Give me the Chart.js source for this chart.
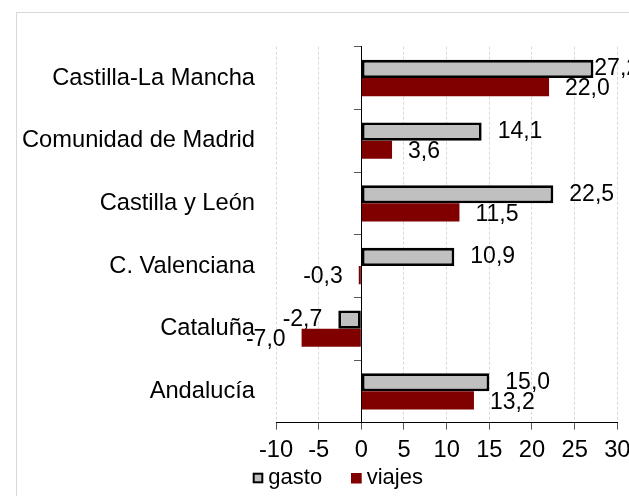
<!DOCTYPE html>
<html><head><meta charset="utf-8">
<script src="https://cdn.jsdelivr.net/npm/chart.js@4/dist/chart.umd.min.js"></script>
<style>html,body{margin:0;padding:0;background:#fff;overflow:hidden}canvas{display:block}</style>
</head><body>
<canvas id="c" width="629" height="496"></canvas>
<script>
const categories = ['Castilla-La Mancha', 'Comunidad de Madrid', 'Castilla y León', 'C. Valenciana', 'Cataluña', 'Andalucía'];
const gasto = [27.2, 14.1, 22.5, 10.9, -2.7, 15.0];
const viajes = [22.0, 3.6, 11.5, -0.3, -7.0, 13.2];
const seriesNames = ['gasto', 'viajes'];
const xTickValues = [-10, -5, 0, 5, 10, 15, 20, 25, 30];

const FONT = '"Liberation Sans", Arial, sans-serif';

const framePlugin = {
  id: 'frame',
  beforeDraw(chart) {
    const ctx = chart.ctx;
    ctx.save();
    ctx.fillStyle = '#fff';
    ctx.fillRect(0, 0, chart.width, chart.height);
    ctx.strokeStyle = '#d9d9d9';
    ctx.lineWidth = 1;
    ctx.strokeRect(16.5, 12.5, 1000, 1000);
    ctx.restore();
  }
};

const labelPlugin = {
  id: 'valueLabels',
  afterDatasetsDraw(chart) {
    const ctx = chart.ctx, area = chart.chartArea;
    ctx.save();
    ctx.font = '23px ' + FONT;
    ctx.fillStyle = '#000';
    ctx.textBaseline = 'middle';
    chart.data.datasets.forEach((ds, di) => {
      const meta = chart.getDatasetMeta(di);
      meta.data.forEach((el, i) => {
        const v = ds.data[i];
        const txt = v.toFixed(1).replace('.', ',');
        const dy = di === 1 ? 2 : 0;
        if (v >= 0) {
          ctx.textAlign = 'left';
          ctx.fillText(txt, Math.min(el.x + 16, area.right - 23), el.y + dy);
        } else {
          ctx.textAlign = 'right';
          ctx.fillText(txt, el.x - 16, el.y + dy);
        }
      });
    });
    ctx.restore();
  }
};

const legendPlugin = {
  id: 'customLegend',
  afterDraw(chart) {
    const ctx = chart.ctx;
    const ds = chart.data.datasets;
    ctx.save();
    ctx.fillStyle = ds[0].backgroundColor;
    ctx.fillRect(253.7, 473.7, 8.6, 8.6);
    ctx.lineWidth = 2;
    ctx.strokeStyle = '#000';
    ctx.strokeRect(253.7, 473.7, 8.6, 8.6);
    ctx.fillStyle = ds[1].backgroundColor;
    ctx.fillRect(351, 473, 10.7, 10.5);
    ctx.fillStyle = '#000';
    ctx.font = '22px ' + FONT;
    ctx.textBaseline = 'alphabetic';
    ctx.textAlign = 'left';
    ctx.fillText(ds[0].label, 268.3, 484);
    ctx.fillText(ds[1].label, 366.7, 484);
    ctx.restore();
  }
};

new Chart(document.getElementById('c'), {
  type: 'bar',
  data: {
    labels: categories,
    datasets: [
      { label: seriesNames[0], data: gasto, backgroundColor: '#c0c0c0', borderColor: '#000', borderWidth: 2.8, borderSkipped: false },
      { label: seriesNames[1], data: viajes, backgroundColor: '#800000', borderWidth: 0 }
    ]
  },
  options: {
    indexAxis: 'y',
    responsive: false,
    animation: false,
    devicePixelRatio: 1,
    datasets: { bar: { categoryPercentage: 0.58, barPercentage: 1 } },
    layout: { padding: { top: 46.7, right: 11.7, bottom: 0, left: 0 } },
    plugins: { legend: { display: false }, tooltip: { enabled: false } },
    scales: {
      x: {
        type: 'linear',
        min: xTickValues[0],
        max: xTickValues[xTickValues.length - 1],
        afterBuildTicks: s => { s.ticks = xTickValues.map(v => ({ value: v })); },
        ticks: { color: '#000', font: { family: FONT, size: 23.7 }, padding: 7 },
        grid: {
          color: c => (c.tick && c.tick.value === 0) ? 'rgba(0,0,0,0)' : '#d9d9d9',
          lineWidth: 1, drawTicks: true, tickLength: 7, tickColor: '#595959', tickWidth: 1
        },
        border: { display: true, color: '#000', width: 1, dash: [3, 2] },
        afterFit: s => { s.height = 73.3; s.paddingLeft = 0; s.paddingRight = 0; }
      },
      y: {
        type: 'category',
        position: 'left',
        grid: { display: false, drawTicks: false },
        border: { display: false },
        ticks: { color: '#000', font: { family: FONT, size: 23.7 }, padding: 21 },
        afterFit: s => { s.width = 276; s.paddingTop = 0; s.paddingBottom = 0; }
      },
      y2: {
        type: 'category',
        axis: 'y',
        position: { x: 0 },
        offset: true,
        grid: { display: true, offset: true, drawOnChartArea: false, drawTicks: true, tickLength: 7, tickColor: '#595959' },
        border: { display: true, color: '#000', width: 1 },
        ticks: { display: false },
        afterFit: s => { s.paddingTop = 0; s.paddingBottom = 0; }
      }
    }
  },
  plugins: [framePlugin, labelPlugin, legendPlugin]
});
</script>
</body></html>
